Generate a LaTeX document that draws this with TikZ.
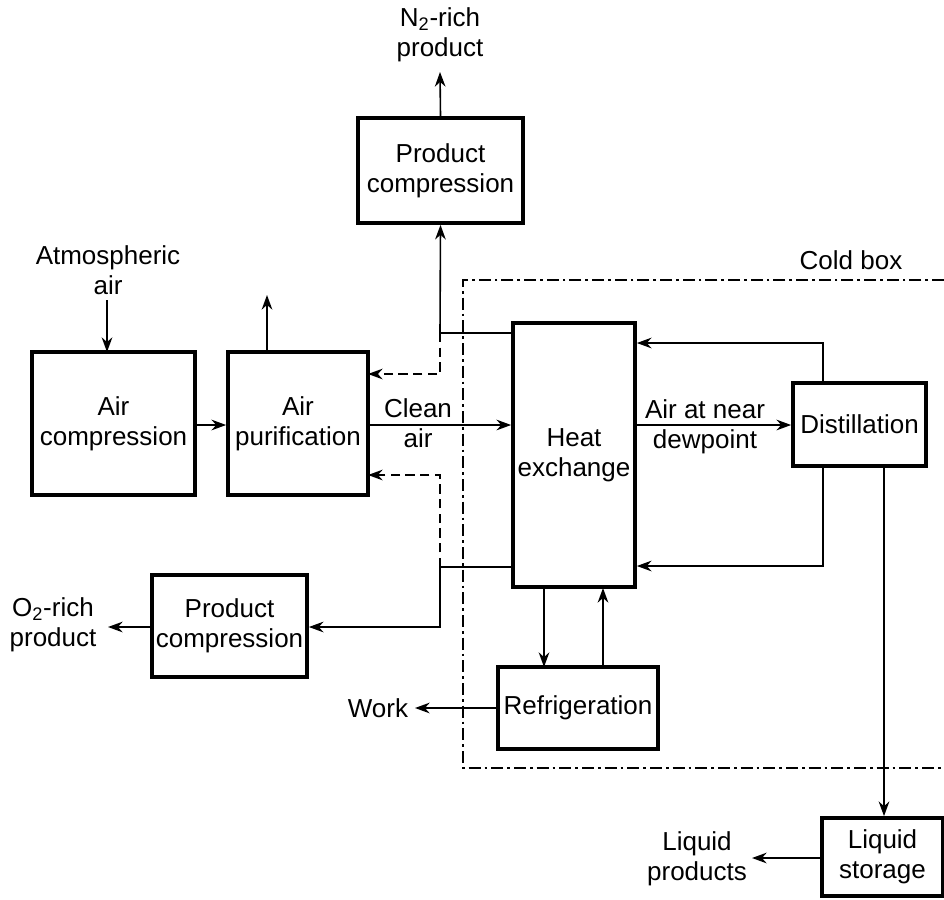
\documentclass[tikz,border=0pt]{standalone}
\usepackage{fontspec}
\setmainfont{Liberation Sans}
\usetikzlibrary{arrows.meta}
\begin{document}
\begin{tikzpicture}[x=0.75pt,y=-0.75pt,
  every node/.style={font=\fontsize{19.5}{22.5}\selectfont, align=center, inner sep=0pt},
  box/.style={draw, line width=2.8pt},
  conn/.style={line width=1.2pt},
  arr/.style={conn, -{Stealth[length=11pt,width=8pt]}},
  dsh/.style={dash pattern=on 7pt off 4pt},
  coldline/.style={line width=1pt, dash pattern=on 9pt off 3pt on 2pt off 3pt}]
\useasboundingbox (0,0) rectangle (944,899);
% boxes
\node[box, minimum width=123.75pt, minimum height=78.75pt] (pctop) at (440.5,170.5) {Product\\compression};
\node[box, minimum width=122.25pt, minimum height=107.25pt] (acomp) at (113.5,423.5) {Air\\compression};
\node[box, minimum width=105pt, minimum height=107.25pt] (apur) at (298,423.5) {Air\\purification};
\node[box, minimum width=91.5pt, minimum height=198pt] (hx) at (574,455) {Heat\\exchange};
\node[box, minimum width=99.75pt, minimum height=62.25pt] (dist) at (859.5,424.5) {Distillation};
\node[box, minimum width=116.25pt, minimum height=76.5pt] (pcbot) at (229.5,626) {Product\\compression};
\node[box, minimum width=120pt, minimum height=61.5pt] (refr) at (578,708) {Refrigeration};
\node[box, minimum width=90.75pt, minimum height=58.5pt] (lstor) at (882.5,857) {Liquid\\storage};
% labels
\node (n2) at (440,35) {N\textsubscript{2}-rich\\product};
\node (atm) at (108,270) {Atmospheric\\air};
\node (clean) at (418,423) {Clean\\air};
\node (dew) at (705,427) {Air at near\\dewpoint};
\node (o2) at (53,625) {O\textsubscript{2}-rich\\product};
\node (work) at (378,708) {Work};
\node (lprod) at (697,859) {Liquid\\products};
\node (cold) at (851,260) {Cold box};
% coordinates
\coordinate (n2end) at (440,72);
\coordinate (atmA) at (107,300);
\coordinate (atmB) at (107,352);
\coordinate (ventA) at (267,352);
\coordinate (ventB) at (267,295);
\coordinate (j1) at (440,333);
\coordinate (j1h) at (513,333);
\coordinate (d1) at (440,374);
\coordinate (d1e) at (368,374);
\coordinate (j2) at (440,567);
\coordinate (j2h) at (513,567);
\coordinate (d2) at (440,475);
\coordinate (d2e) at (368,475);
\coordinate (j3) at (440,627);
\coordinate (o2end) at (108,627);
\coordinate (tr1) at (823,383);
\coordinate (tr2) at (823,343);
\coordinate (br1) at (823,466);
\coordinate (br2) at (823,566);
\coordinate (liqA) at (884,466);
\coordinate (lpend) at (752,858);
\coordinate (workend) at (415,708);
% connectors
\draw[arr] (pctop.north) -- (n2end);
\draw[arr] (atmA) -- (atmB);
\draw[arr] (ventA) -- (ventB);
\draw[arr] (acomp.east |- 0,425) -- (apur.west |- 0,425);
\draw[arr] (apur.east |- 0,425) -- (hx.west |- 0,425);
\draw[arr] (j1h) -- (j1) -- (pctop.south);
\draw[arr, dsh] (j1) -- (d1) -- (d1e);
\draw[conn] (j2h) -- (j2);
\draw[arr, dsh] (j2) -- (d2) -- (d2e);
\draw[arr] (j2) -- (j3) -- (pcbot.east |- j3);
\draw[arr] (pcbot.west |- j3) -- (o2end);
\draw[arr] (hx.east |- 0,425) -- (dist.west |- 0,425);
\draw[arr] (tr1) -- (tr2) -- (hx.east |- tr2);
\draw[arr] (br1) -- (br2) -- (hx.east |- br2);
\draw[arr] (liqA) -- (liqA |- lstor.north);
\draw[arr] (lstor.west |- lpend) -- (lpend);
\draw[arr] (544,588) -- (544,667);
\draw[arr] (603,667) -- (603,588);
\draw[arr] (refr.west) -- (workend);
% cold box
\draw[coldline] (944,280) -- (463,280) -- (463,768) -- (944,768);
\end{tikzpicture}
\end{document}
